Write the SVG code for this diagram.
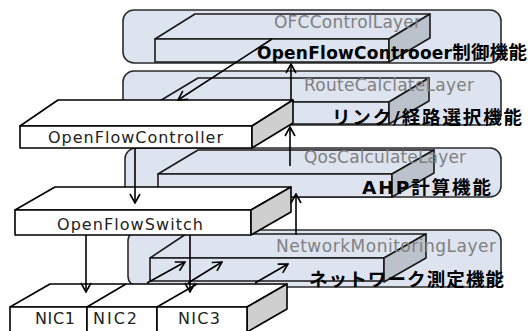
<svg xmlns="http://www.w3.org/2000/svg" width="528" height="331" viewBox="0 0 528 331">
  <style>
    .panel { fill: #dde4f0; stroke: #2b2b2b; stroke-width: 1.6; }
    .lface { fill: #dde4f0; stroke: #1a1a1a; stroke-width: 1.6; stroke-linejoin: round; }
    .lside { fill: #bcc2cc; stroke: #1a1a1a; stroke-width: 1.6; stroke-linejoin: round; }
    .wface { fill: #ffffff; stroke: #000000; stroke-width: 1.6; stroke-linejoin: round; }
    .wside { fill: #cfcfcf; stroke: #000000; stroke-width: 1.6; stroke-linejoin: round; }
    .lname { font-family: "DejaVu Sans", "Noto Sans", sans-serif; font-size: 17px; fill: #808080; }
    .func { font-family: "DejaVu Sans", "Noto Sans CJK JP", sans-serif; font-size: 17px; font-weight: bold; fill: #000000; }
    .jp { font-size: 18.5px; }
    .blabel { font-family: "DejaVu Sans", "Noto Sans", sans-serif; font-size: 16px; fill: #222222; }
    .conn line { stroke: #000000; stroke-width: 1.6; marker-end: url(#arr); }
  </style>
  <defs>
    <marker id="arr" markerUnits="userSpaceOnUse" viewBox="0 0 12 12" markerWidth="12" markerHeight="12" refX="11" refY="6" orient="auto">
      <path d="M2,1 L11,6 L2,11" fill="none" stroke="#000" stroke-width="1.6"/>
    </marker>
  </defs>

  <!-- Layer 1: OFC control -->
  <g id="ofc-control-layer">
    <rect class="panel" x="123" y="10" width="378" height="53" rx="11"/>
    <polygon class="lface" points="155,39 195,14 430,14 389,39"/>
    <rect class="lface" x="155" y="39" width="234" height="23"/>
    <polygon class="lside" points="389,39 430,14 430,38 389,62"/>
    <text class="lname" x="274" y="28" textLength="147">OFCControlLayer</text>
    <text class="func" x="257" y="59" textLength="270">OpenFlowControoer<tspan class="jp">制御機能</tspan></text>
  </g>

  <!-- Layer 2: route calculation -->
  <g id="route-calc-layer">
    <rect class="panel" x="123" y="71" width="378" height="54" rx="11"/>
    <polygon class="lface" points="158,102 198,78 429,78 389,102"/>
    <rect class="lface" x="158" y="102" width="231" height="22"/>
    <polygon class="lside" points="389,102 429,78 429,101 389,124"/>
    <text class="lname" x="304" y="91" textLength="170">RouteCalclateLayer</text>
    <text class="func jp" x="332" y="124" textLength="190">リンク/経路選択機能</text>
  </g>

  <!-- Layer 3: QoS calculation -->
  <g id="qos-calc-layer">
    <rect class="panel" x="125" y="148" width="376" height="49" rx="11"/>
    <polygon class="lface" points="158,174 198,150 434,150 392,174"/>
    <rect class="lface" x="158" y="174" width="234" height="23"/>
    <polygon class="lside" points="392,174 434,150 434,173 392,197"/>
    <text class="lname" x="304" y="163" textLength="162">QosCalculateLayer</text>
    <text class="func jp" x="362" y="194" textLength="129">AHP計算機能</text>
  </g>

  <!-- Layer 4: network monitoring -->
  <g id="net-monitor-layer">
    <rect class="panel" x="128" y="230" width="373" height="57" rx="11"/>
    <polygon class="lface" points="150,258 186,234 426,234 384,258"/>
    <rect class="lface" x="150" y="258" width="234" height="23"/>
    <polygon class="lside" points="384,258 426,234 426,258 384,282"/>
    <text class="lname" x="276" y="252" textLength="220">NetworkMonitoringLayer</text>
    <text class="func jp" x="309" y="286" textLength="195">ネットワーク測定機能</text>
  </g>

  <!-- OpenFlow controller block -->
  <g id="openflow-controller">
    <polygon class="wface" points="20,126 58,100 293,100 252,126"/>
    <rect class="wface" x="20" y="126" width="232" height="22"/>
    <polygon class="wside" points="252,126 293,100 293,123 252,148"/>
    <text class="blabel" x="48" y="143" textLength="175">OpenFlowController</text>
  </g>

  <!-- OpenFlow switch block -->
  <g id="openflow-switch">
    <polygon class="wface" points="15,210 55,187 291,187 251,210"/>
    <rect class="wface" x="15" y="210" width="236" height="25"/>
    <polygon class="wside" points="251,210 291,187 291,212 251,235"/>
    <text class="blabel" x="57" y="230" textLength="146">OpenFlowSwitch</text>
  </g>

  <!-- Network interface cards -->
  <g id="nics">
    <polygon class="wface" points="10,307 50,284 287,284 247,307"/>
    <line x1="87" y1="307" x2="126" y2="284" stroke="#000" stroke-width="1.6"/>
    <line x1="157" y1="307" x2="197" y2="284" stroke="#000" stroke-width="1.6"/>
    <polygon class="wside" points="247,307 287,284 287,309 247,332"/>
    <g id="nic1">
      <rect class="wface" x="10" y="307" width="77" height="26"/>
      <text class="blabel" x="35" y="324" textLength="40">NIC1</text>
    </g>
    <g id="nic2">
      <rect class="wface" x="87" y="307" width="70" height="26"/>
      <text class="blabel" x="93" y="324" textLength="44">NIC2</text>
    </g>
    <g id="nic3">
      <rect class="wface" x="157" y="307" width="90" height="26"/>
      <text class="blabel" x="178" y="324" textLength="42">NIC3</text>
    </g>
  </g>

  <!-- Connectors -->
  <g class="conn" id="connectors">
    <line x1="272" y1="39" x2="178" y2="100"/>
    <line x1="291" y1="100" x2="291" y2="64"/>
    <line x1="290" y1="166" x2="290" y2="127"/>
    <line x1="296" y1="235" x2="296" y2="194"/>
    <line x1="135" y1="148" x2="135" y2="203"/>
    <line x1="86" y1="235" x2="86" y2="292"/>
    <line x1="190" y1="235" x2="190" y2="292"/>
    <line x1="147" y1="283" x2="185" y2="262"/>
    <line x1="188" y1="283" x2="222" y2="262"/>
    <line x1="255" y1="283" x2="288" y2="264"/>
  </g>
</svg>
